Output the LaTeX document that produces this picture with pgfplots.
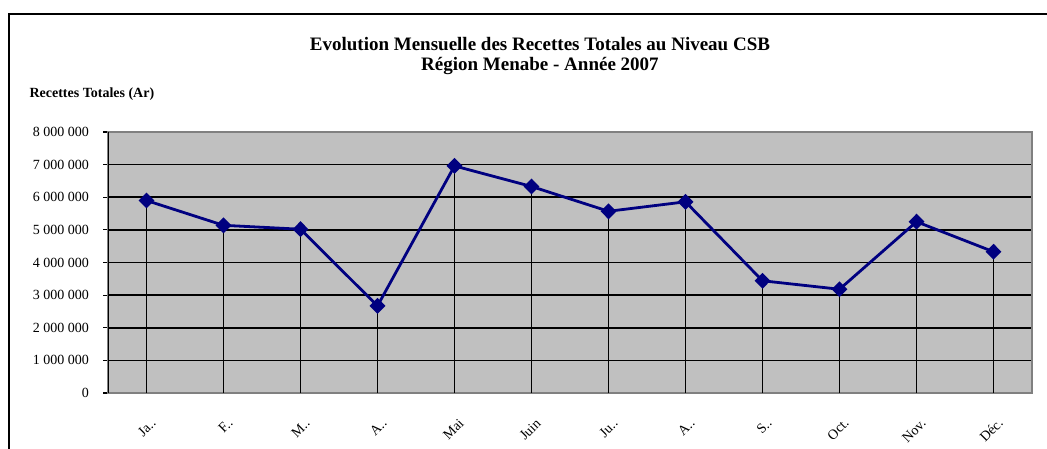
\documentclass[border=0pt]{standalone}
\usepackage{fontspec}
\setmainfont{Liberation Serif}
\usepackage{pgfplots}
\usepackage{pgfplotstable}
\pgfplotsset{compat=1.18}
\definecolor{plotgray}{HTML}{C0C0C0}
\definecolor{bordergray}{HTML}{808080}
\definecolor{navyline}{HTML}{000080}
\pgfplotstableread{
x y
1 5900000
2 5140000
3 5020000
4 2670000
5 6960000
6 6330000
7 5570000
8 5860000
9 3440000
10 3180000
11 5250000
12 4330000
}\recettes
\begin{document}
\begin{tikzpicture}
\path[use as bounding box] (0pt,0pt) rectangle (1047pt,448pt);
\draw[black, line width=2pt] (9pt,-2pt) -- (9pt,434pt) -- (1049pt,434pt);
\begin{axis}[
  at={(108pt,55pt)}, anchor=south west,
  scale only axis, width=924pt, height=261pt,
  xmin=0.5, xmax=12.5, ymin=0, ymax=8000000,
  xtick={1,2,3,4,5,6,7,8,9,10,11,12},
  xticklabels={Ja..,F..,M..,A..,Mai,Juin,Ju..,A..,S..,Oct.,Nov.,Déc.},
  ytick={0,1000000,2000000,3000000,4000000,5000000,6000000,7000000,8000000},
  scaled y ticks=false,
  /pgf/number format/fixed,
  /pgf/number format/1000 sep={\ },
  /pgf/number format/assume math mode=true,
  ymajorgrids,
  major grid style={black, line width=1.6pt},
  axis line style={bordergray, line width=2.2pt},
  axis background/.style={fill=plotgray},
  tick align=outside,
  ytick pos=left, xtick pos=bottom,
  major tick length=5pt,
  xtick style={draw=none},
  ytick style={black, line width=1.2pt},
  yticklabel style={font=\fontsize{14}{16}\selectfont, anchor=east, inner sep=0pt, xshift=-14pt},
  xticklabel style={font=\fontsize{14}{16}\selectfont, anchor=east, inner sep=0pt, xshift=7pt, yshift=-23pt, rotate=45},
  every axis y label/.style={at={(axis description cs:-0.0887,1.1456)}, anchor=west, font=\fontsize{14}{16}\selectfont\bfseries},
  ylabel={Recettes Totales (Ar)},
  title={Evolution Mensuelle des Recettes Totales au Niveau CSB\\Région Menabe - Année 2007},
  every axis title/.style={at={(axis description cs:0.4675,1.291)}, anchor=center, align=center, font=\fontsize{19}{20}\selectfont\bfseries},
]
\addplot[ycomb, black, line width=1.5pt, forget plot] table[x=x,y=y]{\recettes};
\addplot[navyline, line width=2.8pt, mark=diamond*, mark size=6pt, mark options={xscale=1.33, solid, fill=navyline}] table[x=x,y=y]{\recettes};
\draw[black, line width=1.6pt] (rel axis cs:0,0) -- (rel axis cs:0,1);
\end{axis}
\end{tikzpicture}
\end{document}
